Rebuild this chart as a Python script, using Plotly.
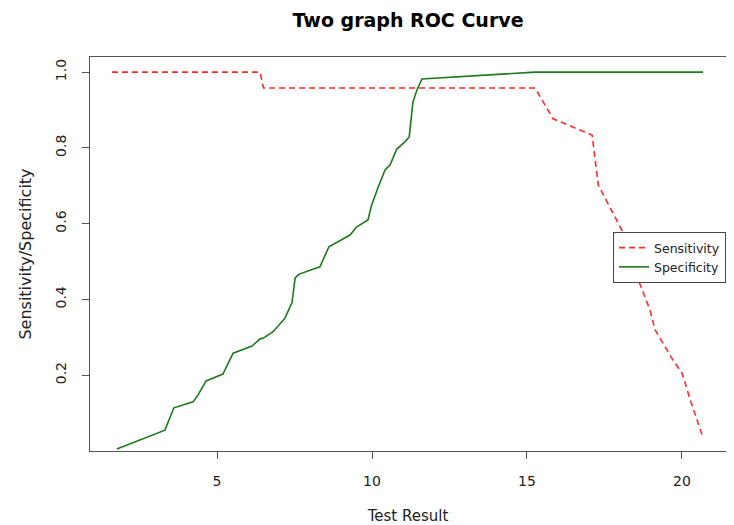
import plotly.graph_objects as go

# Sensitivity curve (red dashed)
sens_x = [1.61, 6.39, 6.5, 15.26, 15.84, 17.1, 17.3, 18.06, 18.55, 18.97, 19.13, 19.71, 20.0, 20.3, 20.65]
sens_y = [1.0, 1.0, 0.958, 0.958, 0.877, 0.834, 0.702, 0.583, 0.46, 0.372, 0.32, 0.24, 0.206, 0.127, 0.042]

# Specificity curve (green solid)
spec_x = [1.77, 3.32, 3.61, 4.23, 4.39, 4.65, 5.19, 5.52, 6.13, 6.39, 6.5, 6.81, 7.19, 7.42, 7.52, 7.65,
          8.32, 8.61, 9.29, 9.5, 9.87, 9.97, 10.2, 10.42, 10.58, 10.8, 11.06, 11.2, 11.26, 11.32,
          11.45, 11.61, 15.26, 20.68]
spec_y = [0.005, 0.055, 0.114, 0.13, 0.148, 0.185, 0.203, 0.258, 0.277, 0.296, 0.298, 0.315, 0.35, 0.392,
          0.457, 0.467, 0.486, 0.539, 0.57, 0.591, 0.61, 0.644, 0.697, 0.742, 0.755, 0.797, 0.816, 0.829,
          0.874, 0.921, 0.953, 0.982, 1.0, 1.0]

x_ticks = [5, 10, 15, 20]
y_ticks = [0.2, 0.4, 0.6, 0.8, 1.0]
y_tick_labels = ["0.2", "0.4", "0.6", "0.8", "1.0"]

FONT = "DejaVu Sans"

fig = go.Figure()
fig.add_trace(go.Scatter(x=sens_x, y=sens_y, mode="lines", name="Sensitivity",
                         line=dict(color="#ff2a2a", width=1.6, dash="6px,4px")))
fig.add_trace(go.Scatter(x=spec_x, y=spec_y, mode="lines", name="Specificity",
                         line=dict(color="#1c7a1c", width=1.6)))

axis_common = dict(showline=True, linecolor="#555555", linewidth=1.3, mirror=True,
                   showgrid=False, zeroline=False, ticks="outside", ticklen=7,
                   tickcolor="#555555", tickwidth=1.2, automargin=False,
                   ticklabelstandoff=10,
                   tickfont=dict(family=FONT, size=14, color="#222222"))

fig.update_layout(
    template="none",
    width=734, height=525,
    margin=dict(l=82, r=16, t=49, b=82, autoexpand=False),
    paper_bgcolor="white", plot_bgcolor="white",
    title=dict(text="<b>Two graph ROC Curve</b>", x=(408 - 8) / 734, xanchor="center",
               y=1 - 12 / 525, yanchor="middle",
               font=dict(family=FONT, size=19, color="black")),
    xaxis=dict(range=[0.903, 21.42], tickvals=x_ticks,
               title=dict(text="Test Result", font=dict(family=FONT, size=15, color="#222222"), standoff=22),
               **axis_common),
    yaxis=dict(range=[0.0, 1.04], tickvals=y_ticks, ticktext=y_tick_labels, tickangle=-90,
               title=dict(text="Sensitivity/Specificity", font=dict(family=FONT, size=16, color="#222222"),
                          standoff=17),
               **axis_common),
    legend=dict(x=1, xanchor="right", y=(451 - 232) / 394, yanchor="top",
                bgcolor="white", bordercolor="#444444", borderwidth=1,
                font=dict(family=FONT, size=12.5, color="#222222"),
                itemwidth=30, tracegroupgap=0),
    showlegend=True,
)

fig.add_annotation(text="Cutoffs: Sun Jun 12 12:20:52 2022", xref="paper", yref="paper",
                   x=1.0, xanchor="left", xshift=-2, y=0.0, yanchor="bottom",
                   textangle=-90, showarrow=False, borderpad=0,
                   font=dict(family=FONT, size=6.5, color="#d8d8d8"))

fig.write_html("out.html")
